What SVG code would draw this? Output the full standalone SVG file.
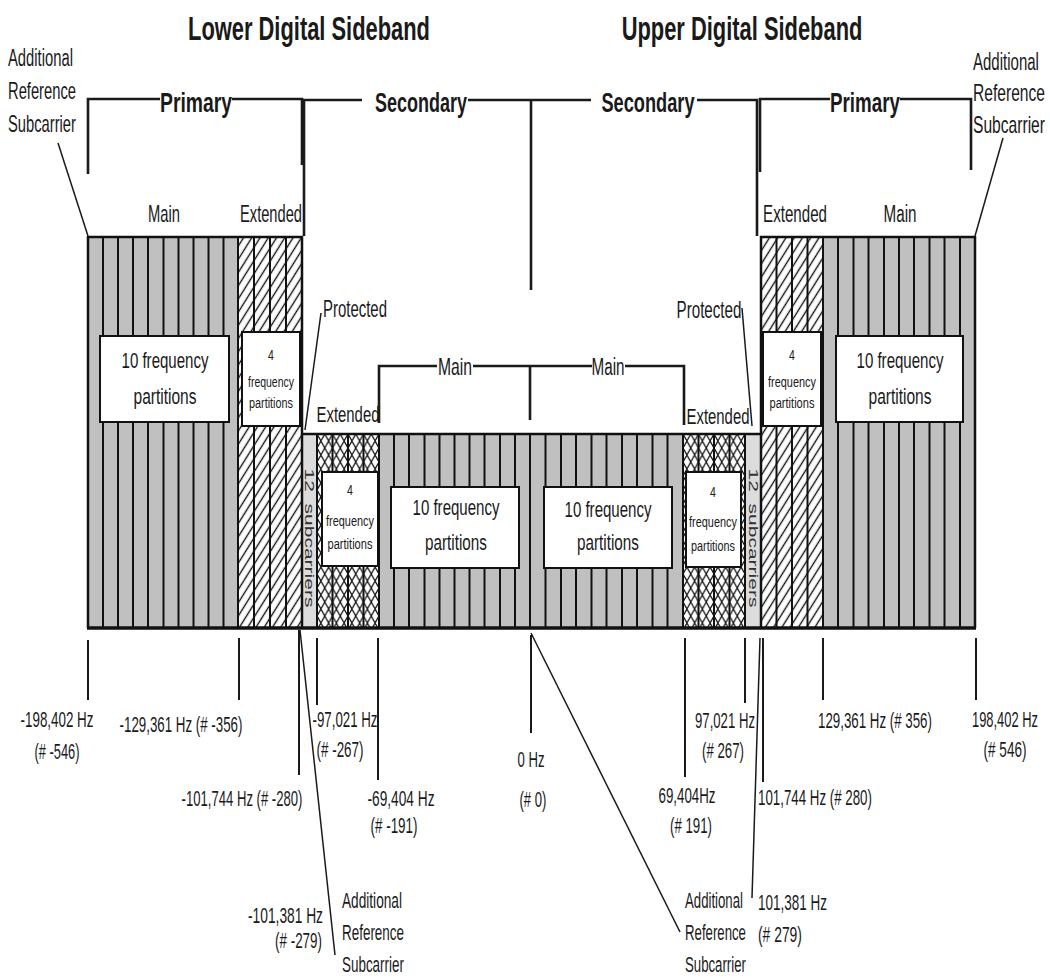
<svg xmlns="http://www.w3.org/2000/svg" width="1050" height="978" viewBox="0 0 1050 978">
<defs>
<style>
.t{font-family:"Liberation Sans",Arial,Helvetica,sans-serif;fill:#1a1a1a}
.h{font-size:34px;font-weight:bold}
.b{font-size:28px;font-weight:bold}
.r{font-size:23px}
.l{font-size:22px}
.s{font-size:15px}
.v{font-size:21px;fill:#333}
.gray{fill:#c0c0c0}
.strip{fill:#dcdcdc}
.stripe{stroke:#111;stroke-width:2;fill:none}
.edge{stroke:#111;stroke-width:2.5;fill:none}
.box{fill:#fff;stroke:#111;stroke-width:2}
.ln{stroke:#1a1a1a;stroke-width:2.6;fill:none}
.tk{stroke:#1a1a1a;stroke-width:2;fill:none}
.ld{stroke:#1a1a1a;stroke-width:1.5;fill:none}
</style>
<pattern id="hatchL" patternUnits="userSpaceOnUse" x="238" y="237" width="7" height="12" patternTransform="rotate(32)"><line x1="3.5" y1="-1" x2="3.5" y2="13" stroke="#111" stroke-width="1.4"/></pattern>
<pattern id="hatchR" patternUnits="userSpaceOnUse" x="761" y="237" width="7" height="12" patternTransform="rotate(32)"><line x1="3.5" y1="-1" x2="3.5" y2="13" stroke="#111" stroke-width="1.4"/></pattern>
<pattern id="xhatchL" patternUnits="userSpaceOnUse" x="317" y="434" width="7.75" height="14"><path d="M0,0 L7.75,14 M7.75,0 L0,14" stroke="#111" stroke-width="1.3" fill="none"/></pattern>
<pattern id="xhatchR" patternUnits="userSpaceOnUse" x="683" y="434" width="7.75" height="14"><path d="M0,0 L7.75,14 M7.75,0 L0,14" stroke="#111" stroke-width="1.3" fill="none"/></pattern>
</defs>
<rect width="1050" height="978" fill="#fff"/>

<g id="headings">
<text class="t h" transform="translate(309,40) scale(0.644,1)" text-anchor="middle">Lower Digital Sideband</text>
<text class="t h" transform="translate(742,40) scale(0.644,1)" text-anchor="middle">Upper Digital Sideband</text>
</g>

<g id="lower-primary-main">
<rect class="gray" x="88" y="237" width="150" height="391"/>
<path class="stripe" d="M103,237V628M118,237V628M133,237V628M148,237V628M163.5,237V628M178.5,237V628M193.5,237V628M208.5,237V628M223.5,237V628"/>
<rect class="box" x="100" y="336" width="129" height="86"/>
<text class="t l" transform="translate(165,368) scale(0.684,1)" text-anchor="middle">10 frequency</text>
<text class="t l" transform="translate(165,404) scale(0.706,1)" text-anchor="middle">partitions</text>
</g>

<g id="lower-primary-extended">
<rect x="238" y="237" width="64" height="391" fill="#fff"/>
<rect x="238" y="237" width="64" height="391" fill="url(#hatchL)"/>
<path class="stripe" d="M254,237V628M270,237V628M286,237V628"/>
<rect class="box" x="242" y="332" width="58" height="94"/>
<text class="t s" transform="translate(271,360) scale(0.7,1)" text-anchor="middle">4</text>
<text class="t s" transform="translate(271,387) scale(0.698,1)" text-anchor="middle">frequency</text>
<text class="t s" transform="translate(271,408) scale(0.723,1)" text-anchor="middle">partitions</text>
</g>

<g id="lower-protected">
<rect class="strip" x="302" y="434" width="15" height="194"/>
<text class="t v" transform="translate(305,538) rotate(90) scale(1,0.62)" text-anchor="middle" xml:space="preserve">12  subcarriers</text>
</g>

<g id="lower-secondary-extended">
<rect x="317" y="434" width="62" height="194" fill="#fff"/>
<rect x="317" y="434" width="62" height="194" fill="url(#xhatchL)"/>
<path class="stripe" d="M332.5,434V628M348,434V628M363.5,434V628"/>
<rect class="box" x="322" y="472" width="56" height="94"/>
<text class="t s" transform="translate(350,495) scale(0.7,1)" text-anchor="middle">4</text>
<text class="t s" transform="translate(350,526) scale(0.728,1)" text-anchor="middle">frequency</text>
<text class="t s" transform="translate(350,549) scale(0.739,1)" text-anchor="middle">partitions</text>
</g>

<g id="lower-secondary-main">
<rect class="gray" x="379" y="434" width="151" height="194"/>
<path class="stripe" d="M394,434V628M409,434V628M424.5,434V628M439.5,434V628M454.5,434V628M469.5,434V628M484.5,434V628M500,434V628M515,434V628"/>
<rect class="box" x="391" y="487" width="128" height="81"/>
<text class="t l" transform="translate(456,515) scale(0.684,1)" text-anchor="middle">10 frequency</text>
<text class="t l" transform="translate(456,550) scale(0.695,1)" text-anchor="middle">partitions</text>
</g>

<g id="upper-secondary-main">
<rect class="gray" x="530" y="434" width="153" height="194"/>
<path class="stripe" d="M545.5,434V628M561,434V628M576,434V628M591.5,434V628M606.5,434V628M622,434V628M637,434V628M652.5,434V628M667.5,434V628"/>
<rect class="box" x="544" y="487" width="128" height="81"/>
<text class="t l" transform="translate(608,517) scale(0.684,1)" text-anchor="middle">10 frequency</text>
<text class="t l" transform="translate(608,550) scale(0.695,1)" text-anchor="middle">partitions</text>
</g>

<g id="upper-secondary-extended">
<rect x="683" y="434" width="62" height="194" fill="#fff"/>
<rect x="683" y="434" width="62" height="194" fill="url(#xhatchR)"/>
<path class="stripe" d="M698.5,434V628M714,434V628M729.5,434V628"/>
<rect class="box" x="686" y="472" width="55" height="95"/>
<text class="t s" transform="translate(713,497) scale(0.7,1)" text-anchor="middle">4</text>
<text class="t s" transform="translate(713,527) scale(0.728,1)" text-anchor="middle">frequency</text>
<text class="t s" transform="translate(713,551) scale(0.723,1)" text-anchor="middle">partitions</text>
</g>

<g id="upper-protected">
<rect class="strip" x="745" y="434" width="16" height="194"/>
<text class="t v" transform="translate(748.5,538) rotate(90) scale(1,0.62)" text-anchor="middle" xml:space="preserve">12  subcarriers</text>
</g>

<g id="upper-primary-extended">
<rect x="761" y="237" width="62" height="391" fill="#fff"/>
<rect x="761" y="237" width="62" height="391" fill="url(#hatchR)"/>
<path class="stripe" d="M776.5,237V628M792,237V628M807.5,237V628"/>
<rect class="box" x="763" y="332" width="58" height="94"/>
<text class="t s" transform="translate(792,360) scale(0.7,1)" text-anchor="middle">4</text>
<text class="t s" transform="translate(792,387) scale(0.728,1)" text-anchor="middle">frequency</text>
<text class="t s" transform="translate(792,408) scale(0.739,1)" text-anchor="middle">partitions</text>
</g>

<g id="upper-primary-main">
<rect class="gray" x="823" y="237" width="152" height="391"/>
<path class="stripe" d="M838,237V628M853.5,237V628M868.5,237V628M884,237V628M899,237V628M914,237V628M929.5,237V628M944.5,237V628M960,237V628"/>
<rect class="box" x="836" y="336" width="127" height="86"/>
<text class="t l" transform="translate(900,368) scale(0.684,1)" text-anchor="middle">10 frequency</text>
<text class="t l" transform="translate(900,404) scale(0.706,1)" text-anchor="middle">partitions</text>
</g>

<g id="outline">
<path class="edge" d="M88,628V237H302V628"/>
<path class="edge" d="M302,434H761"/>
<path class="edge" d="M761,628V237H975V628"/>
<path class="stripe" d="M238,237V628M317,434V628M379,434V628M530,434V628M683,434V628M745,434V628M823,237V628"/>
<path d="M87,628H976" stroke="#111" stroke-width="3.5" fill="none"/>
</g>

<g id="region-labels">
<text class="t r" transform="translate(164,222) scale(0.642,1)" text-anchor="middle">Main</text>
<text class="t r" transform="translate(271,222) scale(0.638,1)" text-anchor="middle">Extended</text>
<text class="t r" transform="translate(795,222) scale(0.658,1)" text-anchor="middle">Extended</text>
<text class="t r" transform="translate(900,222) scale(0.662,1)" text-anchor="middle">Main</text>
<text class="t r" transform="translate(355,317) scale(0.65,1)" text-anchor="middle">Protected</text>
<text class="t r" transform="translate(709,318) scale(0.66,1)" text-anchor="middle">Protected</text>
<text class="t r" transform="translate(348,422) scale(0.648,1)" text-anchor="middle">Extended</text>
<text class="t r" transform="translate(718,424) scale(0.648,1)" text-anchor="middle">Extended</text>
<text class="t r" transform="translate(455,375) scale(0.682,1)" text-anchor="middle">Main</text>
<text class="t r" transform="translate(608,375) scale(0.662,1)" text-anchor="middle">Main</text>
<text class="t b" transform="translate(196,112) scale(0.691,1)" text-anchor="middle">Primary</text>
<text class="t b" transform="translate(421,112) scale(0.643,1)" text-anchor="middle">Secondary</text>
<text class="t b" transform="translate(648,112) scale(0.65,1)" text-anchor="middle">Secondary</text>
<text class="t b" transform="translate(865,112) scale(0.671,1)" text-anchor="middle">Primary</text>
</g>

<g id="ref-top-left">
<text class="t r" transform="translate(8,66) scale(0.644,1)">Additional</text>
<text class="t r" transform="translate(8,99) scale(0.641,1)">Reference</text>
<text class="t r" transform="translate(8,132) scale(0.641,1)">Subcarrier</text>
</g>
<g id="ref-top-right">
<text class="t r" transform="translate(973,70) scale(0.653,1)">Additional</text>
<text class="t r" transform="translate(973,101) scale(0.679,1)">Reference</text>
<text class="t r" transform="translate(973,133) scale(0.679,1)">Subcarrier</text>
</g>
<g id="ref-bottom-left">
<text class="t l" transform="translate(342,908) scale(0.621,1)">Additional</text>
<text class="t l" transform="translate(342,940) scale(0.611,1)">Reference</text>
<text class="t l" transform="translate(342,972) scale(0.611,1)">Subcarrier</text>
</g>
<g id="ref-bottom-right">
<text class="t l" transform="translate(685,908) scale(0.6,1)">Additional</text>
<text class="t l" transform="translate(685,940) scale(0.601,1)">Reference</text>
<text class="t l" transform="translate(685,972) scale(0.601,1)">Subcarrier</text>
</g>

<g id="frequency-labels">
<text class="t l" transform="translate(57,727) scale(0.609,1)" text-anchor="middle">-198,402 Hz</text>
<text class="t l" transform="translate(57,759) scale(0.584,1)" text-anchor="middle">(# -546)</text>
<text class="t l" transform="translate(181,732) scale(0.606,1)" text-anchor="middle">-129,361 Hz (# -356)</text>
<text class="t l" transform="translate(242,806) scale(0.596,1)" text-anchor="middle">-101,744 Hz (# -280)</text>
<text class="t l" transform="translate(345,727) scale(0.604,1)" text-anchor="middle">-97,021 Hz</text>
<text class="t l" transform="translate(340,757) scale(0.61,1)" text-anchor="middle">(# -267)</text>
<text class="t l" transform="translate(401,806) scale(0.623,1)" text-anchor="middle">-69,404 Hz</text>
<text class="t l" transform="translate(394,833) scale(0.61,1)" text-anchor="middle">(# -191)</text>
<text class="t l" transform="translate(323,923) scale(0.626,1)" text-anchor="end">-101,381 Hz</text>
<text class="t l" transform="translate(322,948) scale(0.61,1)" text-anchor="end">(# -279)</text>
<text class="t l" transform="translate(531,767) scale(0.597,1)" text-anchor="middle">0 Hz</text>
<text class="t l" transform="translate(533,807) scale(0.597,1)" text-anchor="middle">(# 0)</text>
<text class="t l" transform="translate(687,803) scale(0.605,1)" text-anchor="middle">69,404Hz</text>
<text class="t l" transform="translate(691,833) scale(0.603,1)" text-anchor="middle">(# 191)</text>
<text class="t l" transform="translate(725,728) scale(0.598,1)" text-anchor="middle">97,021 Hz</text>
<text class="t l" transform="translate(723,758) scale(0.603,1)" text-anchor="middle">(# 267)</text>
<text class="t l" transform="translate(815,805) scale(0.605,1)" text-anchor="middle">101,744 Hz (# 280)</text>
<text class="t l" transform="translate(875,728) scale(0.605,1)" text-anchor="middle">129,361 Hz (# 356)</text>
<text class="t l" transform="translate(1005,727) scale(0.587,1)" text-anchor="middle">198,402 Hz</text>
<text class="t l" transform="translate(1005,757) scale(0.617,1)" text-anchor="middle">(# 546)</text>
<text class="t l" transform="translate(758,910) scale(0.613,1)">101,381 Hz</text>
<text class="t l" transform="translate(758,942) scale(0.631,1)">(# 279)</text>
</g>

<g id="connectors">
<path class="ln" d="M88,174V99H160M232,99H302V165"/>
<path class="ln" d="M304,236V100H362M468,100H591M697,100H757V236"/>
<path class="ln" d="M531,100V290"/>
<path class="ln" d="M760,172V99H830M900,99H971V170"/>
<path class="ln" d="M379,423V366H437M473,366H592M625,366H684V425"/>
<path class="ln" d="M530,366V420"/>
<path class="ld" d="M58,143L88,236"/>
<path class="ld" d="M1003,138L975,236"/>
<path class="ld" d="M321,313L305,430"/>
<path class="ld" d="M742,308L752,426"/>
<path class="tk" d="M88,640V700M239,638V700M299,630V775M317,638V705M378,638V780M531,635V733M685,638V777M745,638V703M763,638V782M823,638V700M976,638V700"/>
<path class="ld" d="M300,630L335,955"/>
<path class="ld" d="M531,633L680,932"/>
<path class="ld" d="M760,638L752,898"/>
</g>
</svg>
